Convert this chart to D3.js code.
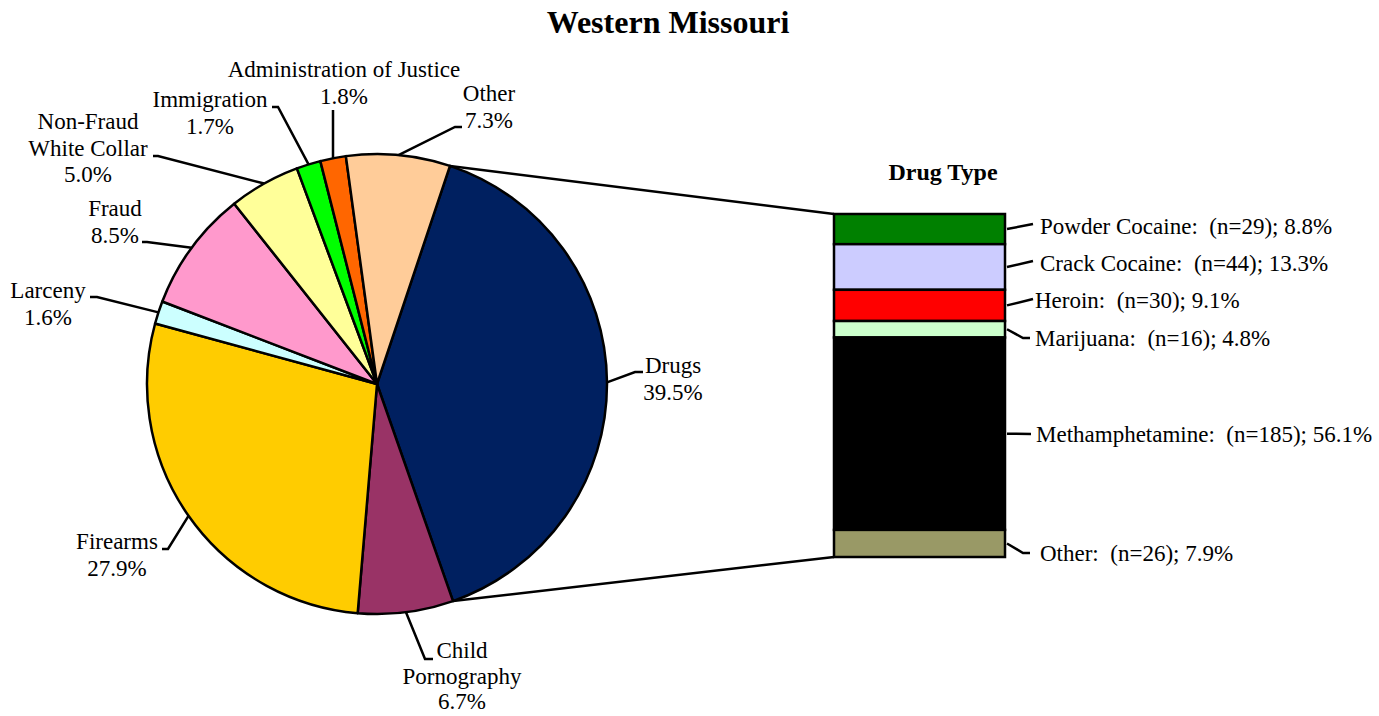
<!DOCTYPE html>
<html>
<head>
<meta charset="utf-8">
<script src="https://cdn.jsdelivr.net/npm/d3@7"></script>
<style>
  body { margin: 0; background: #fff; }
  text { font-family: "Liberation Serif", "Times New Roman", serif; fill: #000; }
</style>
</head>
<body>
<script>
/* ------------------------------- chart data ------------------------------- */
const offenseNames = ["Drugs", "Child Pornography", "Firearms", "Larceny", "Fraud",
  "Non-Fraud White Collar", "Immigration", "Administration of Justice", "Other"];
const offensePct = [39.5, 6.7, 27.9, 1.6, 8.5, 5.0, 1.7, 1.8, 7.3];
const offenseColors = ["#002060", "#993366", "#FFCC00", "#CCFFFF", "#FF99CC",
  "#FFFF99", "#00FF00", "#FF6600", "#FFCC99"];

const drugNames = ["Powder Cocaine", "Crack Cocaine", "Heroin", "Marijuana", "Methamphetamine", "Other"];
const drugCounts = [29, 44, 30, 16, 185, 26];
const drugPct = [8.8, 13.3, 9.1, 4.8, 56.1, 7.9];
const drugColors = ["#008000", "#CCCCFF", "#FF0000", "#CCFFCC", "#000000", "#999966"];

/* ------------------------------ document size ----------------------------- */
const width = 1379, height = 716;
const cx = 377, cy = 384, radius = 230;
const barX = 834, barW = 171, barTop = 214, barBottom = 557;
const fs = "23px";

const svg = d3.select("body").append("svg")
    .attr("width", width)
    .attr("height", height);

svg.append("text")
    .attr("x", 668).attr("y", 33)
    .attr("text-anchor", "middle")
    .style("font-size", "32px").style("font-weight", "bold")
    .text("Western Missouri");

/* ----------------------------------- pie ---------------------------------- */
const start = 18.5 * Math.PI / 180;
const pie = d3.pie().sort(null).value(d => d)
    .startAngle(start).endAngle(start + 2 * Math.PI);
const arcs = pie(offensePct);
const arc = d3.arc().innerRadius(0).outerRadius(radius);

const g = svg.append("g").attr("transform", "translate(" + cx + "," + cy + ")");
g.selectAll("path").data(arcs).enter().append("path")
    .attr("d", arc)
    .attr("fill", (d, i) => offenseColors[i])
    .attr("stroke", "#000")
    .attr("stroke-width", 2.5)
    .attr("stroke-linejoin", "round");

// point on the rim at a given angle
const rim = (a, r) => [cx + r * Math.sin(a), cy - r * Math.cos(a)];

// label layout: text lines, text centre x, first baseline, line height, leader tick
const pieLabels = [
  { lines: ["Drugs"], x: 673, y: 373, lh: 26.5, tick: [643, 635, 372] },
  { lines: ["Child", "Pornography"], x: 462, y: 658, lh: 25.5, tick: [433, 425, 659] },
  { lines: ["Firearms"], x: 117, y: 549, lh: 26.5, tick: [162, 168, 549] },
  { lines: ["Larceny"], x: 48, y: 298, lh: 26.5, tick: [90, 97, 297] },
  { lines: ["Fraud"], x: 115, y: 216, lh: 26.5, tick: [142, 147, 242] },
  { lines: ["Non-Fraud", "White Collar"], x: 88, y: 129, lh: 26.5, tick: [153, 158, 156] },
  { lines: ["Immigration"], x: 210, y: 107, lh: 26.5, tick: [272, 278, 107] },
  { lines: ["Administration of Justice"], x: 344, y: 77, lh: 26.5, tick: [333, 333, 110] },
  { lines: ["Other"], x: 489, y: 101, lh: 26.5, tick: [462, 455, 127] }
];

pieLabels.forEach((lab, i) => {
  const d = arcs[i];
  const mid = (d.startAngle + d.endAngle) / 2;
  const p = rim(mid, radius);
  const t = lab.tick;
  svg.append("path")
      .attr("d", d3.line()([[t[0], t[2]], [t[1], t[2]], p]))
      .attr("fill", "none").attr("stroke", "#000").attr("stroke-width", 2.5);
  const txt = svg.append("text")
      .attr("text-anchor", "middle")
      .style("font-size", fs);
  lab.lines.concat([d3.format(".1f")(offensePct[i]) + "%"]).forEach((s, k) => {
    txt.append("tspan").attr("x", lab.x).attr("y", lab.y + k * lab.lh).text(s);
  });
});

/* ------------------------------- connectors ------------------------------- */
const drugArc = arcs[0];
svg.append("line")
    .attr("x1", rim(drugArc.startAngle, radius)[0]).attr("y1", rim(drugArc.startAngle, radius)[1])
    .attr("x2", barX).attr("y2", barTop)
    .attr("stroke", "#000").attr("stroke-width", 2.5);
svg.append("line")
    .attr("x1", rim(drugArc.endAngle, radius)[0]).attr("y1", rim(drugArc.endAngle, radius)[1])
    .attr("x2", barX).attr("y2", barBottom)
    .attr("stroke", "#000").attr("stroke-width", 2.5);

/* ----------------------------------- bar ---------------------------------- */
const y = d3.scaleLinear().domain([0, 100]).range([barTop, barBottom]);
const cum = d3.cumsum(drugPct);
const segs = drugPct.map((v, i) => ({ y0: cum[i] - v, y1: cum[i], i: i }));

svg.append("text")
    .attr("x", 943).attr("y", 180)
    .attr("text-anchor", "middle")
    .style("font-size", "24px").style("font-weight", "bold")
    .text("Drug Type");

svg.selectAll("rect.seg").data(segs).enter().append("rect")
    .attr("class", "seg")
    .attr("x", barX).attr("width", barW)
    .attr("y", d => y(d.y0)).attr("height", d => y(d.y1) - y(d.y0))
    .attr("fill", d => drugColors[d.i])
    .attr("stroke", "#000").attr("stroke-width", 2.5);

// label layout: tick end point, text start, baseline
const barLabels = [
  { end: [1033, 224], bend: null, tx: 1040, ty: 234 },
  { end: [1033, 261], bend: null, tx: 1040, ty: 271 },
  { end: [1033, 299], bend: null, tx: 1035, ty: 308 },
  { end: [1030, 338], bend: [1023, 338], tx: 1035, ty: 346 },
  { end: [1031, 434], bend: null, tx: 1036, ty: 442 },
  { end: [1030, 553], bend: [1023, 553], tx: 1040, ty: 561 }
];

segs.forEach((s, i) => {
  const lab = barLabels[i];
  const pts = [[barX + barW + 2, y((s.y0 + s.y1) / 2)]];
  if (lab.bend) pts.push(lab.bend);
  pts.push(lab.end);
  svg.append("path")
      .attr("d", d3.line()(pts))
      .attr("fill", "none").attr("stroke", "#000").attr("stroke-width", 2.5);
  svg.append("text")
      .attr("x", lab.tx).attr("y", lab.ty)
      .style("font-size", fs)
      .style("white-space", "pre")
      .text(drugNames[i] + ":\u00a0 (n=" + drugCounts[i] + "); " + d3.format(".1f")(drugPct[i]) + "%");
});
</script>
</body>
</html>
